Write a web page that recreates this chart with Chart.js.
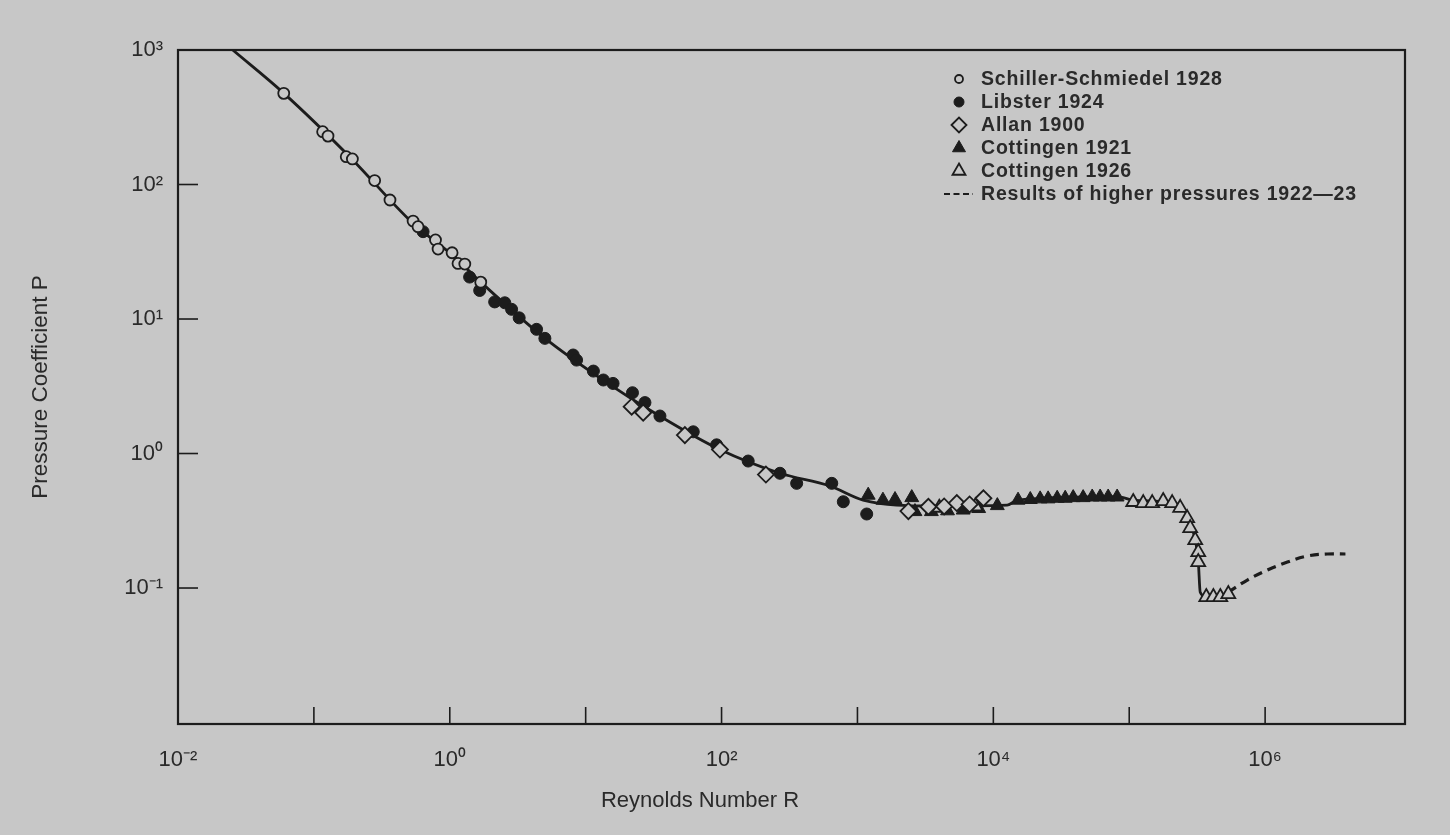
<!DOCTYPE html>
<html>
<head>
<meta charset="utf-8">
<script src="https://cdn.jsdelivr.net/npm/chart.js@4.4.1/dist/chart.umd.min.js"></script>
<style>
  html, body { margin: 0; padding: 0; background: #c7c7c7; }
  #wrap { width: 1450px; height: 835px; }
</style>
</head>
<body>
<div id="wrap"><canvas id="c" width="1450" height="835"></canvas></div>
<script>
// ---------- data ----------
const schillerR = [0.060, 0.116, 0.127, 0.173, 0.192, 0.280, 0.363, 0.537, 0.584, 0.785, 0.820, 1.04, 1.15, 1.29, 1.69];
const schillerP = [476, 247, 229, 161, 155, 107, 76.7, 53.5, 48.6, 38.7, 33.1, 31.1, 25.9, 25.6, 18.8];

const libsterR = [0.636, 1.40, 1.66, 2.14, 2.54, 2.85, 3.24, 4.35, 5.01, 8.09, 8.57, 11.4, 13.5, 15.9, 22.1, 27.3, 35.2, 61.9, 92.0, 157, 269, 357, 647, 787, 1170];
const libsterP = [44.6, 20.5, 16.3, 13.4, 13.2, 11.8, 10.2, 8.38, 7.18, 5.40, 4.95, 4.10, 3.52, 3.32, 2.83, 2.39, 1.90, 1.45, 1.16, 0.879, 0.713, 0.600, 0.600, 0.438, 0.355];

const allanR = [21.8, 26.5, 53.7, 97.3, 212, 2371, 3327, 4345, 5383, 6686, 8453];
const allanP = [2.23, 2.01, 1.37, 1.07, 0.698, 0.373, 0.402, 0.404, 0.428, 0.418, 0.465];

const cott1921R = [1200, 1540, 1890, 2510, 2650, 3500, 4600, 6000, 7800, 10700, 15200, 18700, 22100, 25300, 29500, 33800, 38700, 45800, 53400, 61100, 70000, 81500];
const cott1921P = [0.49, 0.45, 0.455, 0.47, 0.37, 0.37, 0.375, 0.38, 0.39, 0.41, 0.45, 0.455, 0.46, 0.46, 0.465, 0.465, 0.47, 0.47, 0.475, 0.475, 0.475, 0.475];

const cott1926R = [4000, 7400, 107000, 126800, 147600, 177800, 207000, 237000, 267000, 281000, 306000, 322000, 322000, 369000, 416000, 468000, 536000];
const cott1926P = [0.395, 0.405, 0.436, 0.428, 0.428, 0.443, 0.428, 0.394, 0.331, 0.279, 0.227, 0.185, 0.156, 0.0857, 0.0857, 0.0857, 0.0902];

const curveR = [0.0253, 0.0599, 0.19, 0.53, 1.04, 1.69, 5.0, 13.5, 35, 97, 269, 628, 1100, 3425, 12640, 15200, 81500, 107000, 207000, 250000, 290000, 322000, 333000, 369000, 536000];
const curveP = [1000, 478, 155, 52, 30, 18.8, 7.2, 3.5, 1.9, 1.07, 0.713, 0.573, 0.451, 0.407, 0.414, 0.451, 0.478, 0.45, 0.43, 0.39, 0.28, 0.16, 0.093, 0.086, 0.09];

const dashR = [536000, 740000, 1.04e6, 1.46e6, 2.05e6, 2.87e6, 3.9e6];
const dashP = [0.0933, 0.1146, 0.136, 0.156, 0.173, 0.179, 0.179];

const xTickExps = [-2, -1, 0, 1, 2, 3, 4, 5, 6, 7];
const xLabelExps = [-2, 0, 2, 4, 6];
const yTickExps = [-2, -1, 0, 1, 2, 3];
const yLabelExps = [-1, 0, 1, 2, 3];

const seriesLabels = ['Schiller-Schmiedel 1928', 'Libster 1924', 'Allan 1900', 'Cottingen 1921', 'Cottingen 1926', 'Results of higher pressures 1922\u201423'];
const xTitle = 'Reynolds Number R';
const yTitle = 'Pressure Coefficient P';

// ---------- helpers ----------
const zip = (xs, ys) => xs.map((x, i) => ({ x: x, y: ys[i] }));
const SUP = { '-': '\u207B', '0': '\u2070', '1': '\u00B9', '2': '\u00B2', '3': '\u00B3', '4': '\u2074', '5': '\u2075', '6': '\u2076', '7': '\u2077', '8': '\u2078', '9': '\u2079' };
const powLabel = e => '10' + String(e).split('').map(c => SUP[c]).join('');

const BG = '#c7c7c7';
const INK = '#1c1c1c';
const TXT = '#2a2a2a';
const FONT = "'Liberation Sans', Arial, sans-serif";

const markerBase = { showLine: false, borderColor: INK, pointBorderColor: INK };

const datasets = [
  Object.assign({}, markerBase, { label: seriesLabels[0], data: zip(schillerR, schillerP), pointStyle: 'circle', pointRadius: 5.5, pointBorderWidth: 1.8, pointBackgroundColor: BG, backgroundColor: BG, order: 1 }),
  Object.assign({}, markerBase, { label: seriesLabels[1], data: zip(libsterR, libsterP), pointStyle: 'circle', pointRadius: 6, pointBorderWidth: 1, pointBackgroundColor: INK, backgroundColor: INK, order: 2 }),
  Object.assign({}, markerBase, { label: seriesLabels[2], data: zip(allanR, allanP), pointStyle: 'rectRot', pointRadius: 8, pointBorderWidth: 1.8, pointBackgroundColor: BG, backgroundColor: BG, order: 0 }),
  Object.assign({}, markerBase, { label: seriesLabels[3], data: zip(cott1921R, cott1921P), pointStyle: 'triangle', pointRadius: 8, pointBorderWidth: 1, pointBackgroundColor: INK, backgroundColor: INK, order: 3 }),
  Object.assign({}, markerBase, { label: seriesLabels[4], data: zip(cott1926R, cott1926P), pointStyle: 'triangle', pointRadius: 8, pointBorderWidth: 1.8, pointBackgroundColor: BG, backgroundColor: BG, order: 0 }),
  { label: seriesLabels[5], data: zip(dashR, dashP), showLine: true, borderColor: INK, borderWidth: 3.2, borderDash: [9, 6], pointRadius: 0, tension: 0.4, fill: false, order: 9 },
  { label: 'curve', data: zip(curveR, curveP), showLine: true, borderColor: INK, borderWidth: 2.8, pointRadius: 0, cubicInterpolationMode: 'monotone', fill: false, order: 10 }
];

// ---------- plugins ----------
const bgPlugin = {
  id: 'bg',
  beforeDraw(chart) {
    const ctx = chart.ctx;
    ctx.save();
    ctx.fillStyle = BG;
    ctx.fillRect(0, 0, chart.width, chart.height);
    ctx.restore();
  }
};

const framePlugin = {
  id: 'frame',
  afterDatasetsDraw(chart) {
    const { ctx, chartArea: a, scales } = chart;
    ctx.save();
    ctx.strokeStyle = INK;
    ctx.lineWidth = 2.2;
    ctx.strokeRect(a.left, a.top, a.right - a.left, a.bottom - a.top);
    ctx.lineWidth = 1.6;
    xTickExps.forEach(e => {
      const px = scales.x.getPixelForValue(Math.pow(10, e));
      if (px <= a.left + 8 || px >= a.right - 8) return;
      ctx.beginPath();
      ctx.moveTo(px, a.bottom);
      ctx.lineTo(px, a.bottom - 17);
      ctx.stroke();
    });
    yTickExps.forEach(e => {
      const py = scales.y.getPixelForValue(Math.pow(10, e));
      if (py <= a.top + 8 || py >= a.bottom - 8) return;
      ctx.beginPath();
      ctx.moveTo(a.left, py);
      ctx.lineTo(a.left + 20, py);
      ctx.stroke();
    });
    // x axis title, placed as in the original (left of centre)
    const o = chart.options.plugins.frame;
    ctx.fillStyle = TXT;
    ctx.font = o.titleFont;
    ctx.textAlign = 'center';
    ctx.textBaseline = 'middle';
    ctx.fillText(xTitle, o.xTitleX, o.xTitleY);
    ctx.restore();
  }
};

const legendPlugin = {
  id: 'customLegend',
  afterDraw(chart) {
    const ctx = chart.ctx;
    const opts = chart.options.plugins.customLegend;
    ctx.save();
    ctx.font = opts.font;
    if ('letterSpacing' in ctx) ctx.letterSpacing = opts.letterSpacing;
    ctx.textBaseline = 'middle';
    ctx.textAlign = 'left';
    const shown = chart.data.datasets.filter(d => seriesLabels.indexOf(d.label) >= 0);
    shown.forEach((ds, i) => {
      const y = opts.top + i * opts.step;
      const mx = opts.markerX;
      if (ds.showLine) {
        ctx.strokeStyle = INK;
        ctx.lineWidth = 2.2;
        ctx.setLineDash([6, 3.5]);
        ctx.beginPath();
        ctx.moveTo(mx - 15, y);
        ctx.lineTo(mx + 14, y);
        ctx.stroke();
        ctx.setLineDash([]);
      } else {
        ctx.fillStyle = ds.pointBackgroundColor;
        ctx.strokeStyle = INK;
        ctx.lineWidth = ds.pointBorderWidth;
        const r = ds.pointStyle === 'circle' ? (ds.pointBackgroundColor === INK ? 5 : 4) : 7.5;
        Chart.helpers.drawPoint(ctx, { pointStyle: ds.pointStyle, radius: r, rotation: 0, borderWidth: ds.pointBorderWidth }, mx, y);
      }
      ctx.fillStyle = TXT;
      ctx.fillText(ds.label, opts.textX, y + 1);
    });
    ctx.restore();
  }
};

// ---------- chart ----------
new Chart(document.getElementById('c'), {
  type: 'scatter',
  data: { datasets: datasets },
  plugins: [bgPlugin, framePlugin, legendPlugin],
  options: {
    responsive: false,
    devicePixelRatio: 1,
    animation: false,
    layout: { padding: { top: 50, right: 45, left: 0, bottom: 0 } },
    plugins: {
      legend: { display: false },
      tooltip: { enabled: false },
      frame: { titleFont: "22px " + FONT, xTitleX: 700, xTitleY: 801 },
      customLegend: { top: 79, step: 23, markerX: 959, textX: 981, font: "bold 19.5px " + FONT, letterSpacing: '0.8px' }
    },
    scales: {
      x: {
        type: 'logarithmic',
        min: 0.01,
        max: 1.07e7,
        afterFit: s => { s.height = 111; },
        afterBuildTicks: s => { s.ticks = xTickExps.map(e => ({ value: Math.pow(10, e) })); },
        grid: { display: false, drawTicks: false },
        border: { display: false },
        ticks: {
          autoSkip: false, maxRotation: 0, padding: 23, color: TXT,
          font: { family: FONT, size: 22 },
          callback: v => { const e = Math.round(Math.log10(v)); return xLabelExps.indexOf(e) >= 0 ? powLabel(e) : ''; }
        },
        title: { display: false }
      },
      y: {
        type: 'logarithmic',
        min: 0.00975,
        max: 1000,
        afterFit: s => { s.width = 178; },
        afterBuildTicks: s => { s.ticks = yTickExps.map(e => ({ value: Math.pow(10, e) })); },
        grid: { display: false, drawTicks: false },
        border: { display: false },
        ticks: {
          autoSkip: false, padding: 15, color: TXT,
          font: { family: FONT, size: 22 },
          callback: v => { const e = Math.round(Math.log10(v)); return yLabelExps.indexOf(e) >= 0 ? powLabel(e) : ''; }
        },
        title: { display: true, text: yTitle, color: TXT, font: { family: FONT, size: 22.5 }, padding: { top: 27, bottom: 0 } }
      }
    }
  }
});
</script>
</body>
</html>
